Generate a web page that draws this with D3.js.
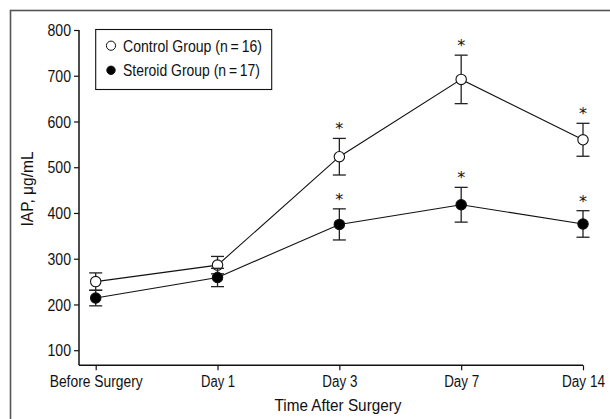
<!DOCTYPE html>
<html>
<head>
<meta charset="utf-8">
<script src="https://cdn.jsdelivr.net/npm/d3@7"></script>
<style>
html,body{margin:0;padding:0;background:#fff;}
svg{display:block;}
text{font-family:"Liberation Sans",Arial,sans-serif;fill:#111;}
</style>
</head>
<body>
<svg id="chart" width="610" height="419"></svg>
<script>
const categories = ["Before Surgery", "Day 1", "Day 3", "Day 7", "Day 14"];
const controlMean = [250, 286, 523, 692, 560];
const controlErr  = [19, 19, 40, 53, 36];
const steroidMean = [214, 259, 375, 418, 376];
const steroidErr  = [17, 20, 34, 38, 29];
const controlSig  = [false, false, true, true, true];
const steroidSig  = [false, false, true, true, true];
const yTicks = [100, 200, 300, 400, 500, 600, 700, 800];
const seriesNames = ["Control Group (n\u2009=\u200916)", "Steroid Group (n\u2009=\u200917)"];

const svg = d3.select("#chart");

// fit text to the condensed width seen in the reference
function fitWidth(sel, widthFn) {
  sel.each(function (d, i) {
    d3.select(this).attr("textLength", widthFn(d, i, this)).attr("lengthAdjust", "spacingAndGlyphs");
  });
}
const charW = 7.1; // approx px per glyph of the condensed face at this size
function estW(node) {
  const t = node.textContent;
  return node.getComputedTextLength() * 0.86;
}

// outer frame
svg.append("rect").attr("x", 10.5).attr("y", 10.5).attr("width", 640).attr("height", 440)
  .attr("fill", "none").attr("stroke", "#555").attr("stroke-width", 1.6);

const x = d3.scalePoint().domain(categories).range([95.7, 583]);
const y = d3.scaleLinear().domain([67, 800]).range([365.3, 30]);

const axisX = 79;
const axisY = 365.3;

// y axis
const yAxis = svg.append("g").attr("transform", `translate(${axisX},0)`)
  .call(d3.axisLeft(y).tickValues(yTicks).tickSize(5).tickPadding(3).tickSizeOuter(0));
yAxis.select(".domain").attr("stroke", "#111").attr("stroke-width", 1.5)
  .attr("d", `M0,${y(800)}V${axisY}`);
yAxis.selectAll(".tick line").attr("stroke", "#111").attr("stroke-width", 1.2);
yAxis.selectAll(".tick text").style("font-size", "16px").attr("fill", "#111")
  .style("font-family", '"Liberation Sans",Arial,sans-serif').attr("dy", "0.36em")
  .call(fitWidth, () => 23.5);

// x axis
const xLabelW = { "Before Surgery": 93, "Day 1": 34, "Day 3": 35, "Day 7": 35, "Day 14": 43 };
const xAxis = svg.append("g").attr("transform", `translate(0,${axisY})`)
  .call(d3.axisBottom(x).tickSize(5).tickPadding(5).tickSizeOuter(0));
xAxis.select(".domain").attr("stroke", "#111").attr("stroke-width", 1.5)
  .attr("d", `M${axisX},0H${x(categories[categories.length-1])}`);
xAxis.selectAll(".tick line").attr("stroke", "#111").attr("stroke-width", 1.2);
xAxis.selectAll(".tick text").style("font-size", "16px").attr("fill", "#111")
  .style("font-family", '"Liberation Sans",Arial,sans-serif')
  .call(fitWidth, d => xLabelW[d]);

// axis titles
svg.append("text").attr("x", 338).attr("y", 411).attr("text-anchor", "middle")
  .style("font-size", "16.5px").text("Time After Surgery").call(fitWidth, () => 127);
svg.append("text").attr("transform", "translate(33,189) rotate(-90)").attr("text-anchor", "middle")
  .style("font-size", "16.5px").text("IAP, \u03bcg/mL").call(fitWidth, () => 75);

const line = d3.line().x(d => x(d.cat)).y(d => y(d.v));

function drawSeries(means, errs, sig, filled) {
  const data = means.map((v, i) => ({ cat: categories[i], v: v, e: errs[i], s: sig[i] }));
  const g = svg.append("g");
  g.append("path").datum(data).attr("d", line).attr("fill", "none")
    .attr("stroke", "#111").attr("stroke-width", 1.1);
  const pts = g.selectAll(".pt").data(data).enter().append("g");
  pts.append("line")
    .attr("x1", d => x(d.cat)).attr("x2", d => x(d.cat))
    .attr("y1", d => y(d.v + d.e)).attr("y2", d => y(d.v - d.e))
    .attr("stroke", "#222").attr("stroke-width", 1.3);
  [1, -1].forEach(s => {
    pts.append("line")
      .attr("x1", d => x(d.cat) - 6.5).attr("x2", d => x(d.cat) + 6.5)
      .attr("y1", d => y(d.v + s * d.e)).attr("y2", d => y(d.v + s * d.e))
      .attr("stroke", "#222").attr("stroke-width", 1.3);
  });
  pts.append("circle")
    .attr("cx", d => x(d.cat)).attr("cy", d => y(d.v)).attr("r", 5.2)
    .attr("fill", filled ? "#000" : "#fff").attr("stroke", "#111").attr("stroke-width", 1.1);
  pts.filter(d => d.s).append("text")
    .attr("x", d => x(d.cat)).attr("y", d => y(d.v + d.e) - 4)
    .attr("text-anchor", "middle").style("font-size", "16px")
    .style("font-family", "DejaVu Sans, sans-serif").attr("fill", "#666").text("*");
}
drawSeries(controlMean, controlErr, controlSig, false);
drawSeries(steroidMean, steroidErr, steroidSig, true);

// legend
const legendW = [139, 137];
const lg = svg.append("g");
lg.append("rect").attr("x", 95.7).attr("y", 29.5).attr("width", 176).attr("height", 60)
  .attr("fill", "#fff").attr("stroke", "#111").attr("stroke-width", 1.1);
seriesNames.forEach((name, i) => {
  const cy = 45.7 + i * 24.6;
  lg.append("circle").attr("cx", 111).attr("cy", cy).attr("r", i === 0 ? 4.6 : 4.2)
    .attr("fill", i === 0 ? "#fff" : "#000").attr("stroke", "#111").attr("stroke-width", 1);
  lg.append("text").attr("x", 123).attr("y", cy + 6).style("font-size", "17px").text(name)
    .call(fitWidth, () => legendW[i]);
});
</script>
</body>
</html>
